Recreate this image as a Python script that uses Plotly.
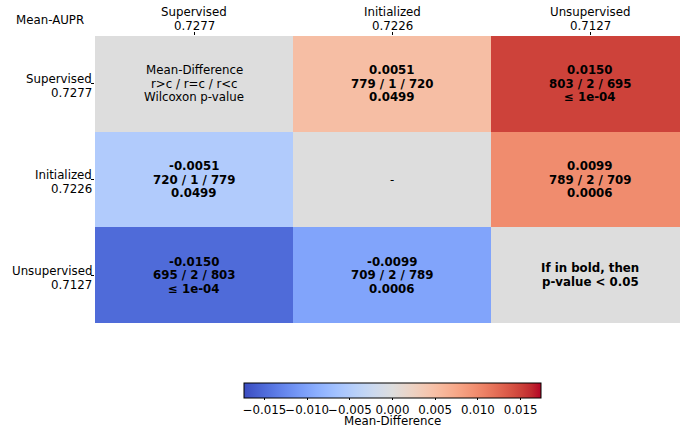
import plotly.graph_objects as go

methods = ["Supervised", "Initialized", "Unsupervised"]
mean_aupr = [0.7277, 0.7226, 0.7127]
# mean difference (row - column)
mean_diff = [
    [0.0, 0.0051, 0.0150],
    [-0.0051, 0.0, 0.0099],
    [-0.0150, -0.0099, 0.0],
]
counts = [
    [None, "779 / 1 / 720", "803 / 2 / 695"],
    ["720 / 1 / 779", None, "789 / 2 / 709"],
    ["695 / 2 / 803", "709 / 2 / 789", None],
]
pvalues = [
    [None, "0.0499", "≤ 1e-04"],
    ["0.0499", None, "0.0006"],
    ["≤ 1e-04", "0.0006", None],
]
cb_ticks = [-0.015, -0.010, -0.005, 0.000, 0.005, 0.010, 0.015]
vlim = 0.0174

# coolwarm (Moreland) control colours
coolwarm_rgb = [
    (59, 76, 192), (68, 90, 204), (77, 104, 215), (87, 117, 225), (98, 130, 234),
    (108, 142, 241), (119, 154, 247), (130, 165, 251), (141, 176, 254),
    (152, 185, 255), (163, 194, 255), (174, 201, 253), (184, 208, 249),
    (194, 213, 244), (204, 217, 238), (213, 219, 230), (221, 221, 221),
    (229, 216, 209), (236, 211, 197), (241, 204, 185), (245, 196, 173),
    (247, 187, 160), (247, 177, 148), (247, 166, 135), (244, 154, 123),
    (241, 141, 111), (236, 127, 99), (229, 112, 88), (222, 96, 77),
    (213, 80, 66), (203, 62, 56), (192, 40, 47), (180, 4, 38),
]
colorscale = [[i / (len(coolwarm_rgb) - 1), "rgb(%d,%d,%d)" % c]
              for i, c in enumerate(coolwarm_rgb)]

FONT = "DejaVu Sans"
FS = 11.8
n = len(methods)
PLOT_L, PLOT_T, PLOT_B = 95, 36, 323
PW, PH = 680 - PLOT_L, PLOT_B - PLOT_T


def px_x(x):
    return (x - PLOT_L) / PW


def px_y(y):
    return (PLOT_B - y) / PH


fig = go.Figure()
fig.add_trace(go.Heatmap(
    z=mean_diff, x=list(range(n)), y=list(range(n)),
    zmin=-vlim, zmax=vlim, colorscale=colorscale, hoverinfo="skip",
    colorbar=dict(
        orientation="h", x=px_x(392.5), xanchor="center",
        y=px_y(383), yanchor="top", lenmode="pixels", len=297,
        thickness=15, xpad=0, ypad=0, outlinecolor="black", outlinewidth=1,
        tickvals=cb_ticks,
        ticktext=[("−" if v < 0 else "") + f"{abs(v):.3f}" for v in cb_ticks],
        ticks="outside", ticklen=2, tickcolor="black", tickangle=0,
        tickfont=dict(family=FONT, size=FS, color="black"),
    ),
))

LS = 13.5
for i in range(n):
    for j in range(n):
        if i == j:
            if i == 0:
                lines = ["Mean-Difference", "r>c / r=c / r<c", "Wilcoxon p-value"]
                bold = False
            elif i == n - 1:
                lines = ["If in bold, then", "p-value < 0.05"]
                bold = True
            else:
                lines = ["-"]
                bold = False
        else:
            lines = [f"{mean_diff[i][j]:.4f}", counts[i][j], pvalues[i][j]]
            bold = True
        m = len(lines)
        for k, t in enumerate(lines):
            fig.add_annotation(
                x=j, y=i, xref="x", yref="y", showarrow=False,
                text=f"<b>{t}</b>" if bold else t,
                yshift=-(k - (m - 1) / 2) * LS,
                font=dict(family=FONT, size=FS, color="black"),
            )

# y-axis labels (method / mean AUPR), right-aligned next to the ticks
for i, (m, a) in enumerate(zip(methods, mean_aupr)):
    for t, shift in ((m, 4.5), (f"{a:.4f}", -9.5)):
        fig.add_annotation(
            x=px_x(93.5), xref="paper", y=i, yref="y", xanchor="right",
            yanchor="middle", yshift=shift, text=t, showarrow=False,
            font=dict(family=FONT, size=FS, color="black"),
        )

# x-axis labels (method / mean AUPR), above the top ticks
for j, (m, a) in enumerate(zip(methods, mean_aupr)):
    for t, ypx in ((m, 12), (f"{a:.4f}", 26)):
        fig.add_annotation(
            x=j, xref="x", y=px_y(ypx), yref="paper", xanchor="center",
            yanchor="middle", text=t, showarrow=False,
            font=dict(family=FONT, size=FS, color="black"),
        )

fig.add_annotation(x=px_x(50), y=px_y(20), xref="paper", yref="paper",
                   xanchor="center", yanchor="middle",
                   text="Mean-AUPR", showarrow=False,
                   font=dict(family=FONT, size=FS, color="black"))

# colorbar title
fig.add_annotation(x=px_x(392.5), y=px_y(420.5), xref="paper", yref="paper",
                   xanchor="center", yanchor="middle", borderpad=0, borderwidth=0,
                   text="Mean-Difference", showarrow=False,
                   font=dict(family=FONT, size=FS, color="black"))

fig.update_xaxes(
    side="top", range=[-0.5, -0.5 + PW / 198], tickvals=list(range(n)),
    showticklabels=False, ticks="outside", ticklen=3, tickcolor="black",
    showgrid=False, zeroline=False, showline=False, automargin=False,
)
fig.update_yaxes(
    range=[n - 0.5, -0.5], tickvals=list(range(n)), showticklabels=False,
    ticks="outside", ticklen=3, tickcolor="black",
    showgrid=False, zeroline=False, showline=False, automargin=False,
)
fig.update_layout(
    width=680, height=428,
    margin=dict(l=PLOT_L, r=0, t=PLOT_T, b=428 - PLOT_B, autoexpand=False),
    paper_bgcolor="white", plot_bgcolor="white",
    font=dict(family=FONT, size=FS, color="black"),
)
fig.write_html(
    "out.html",
    config={"displayModeBar": False},
    post_script="document.body.style.margin='0';document.body.style.overflow='hidden';",
)
